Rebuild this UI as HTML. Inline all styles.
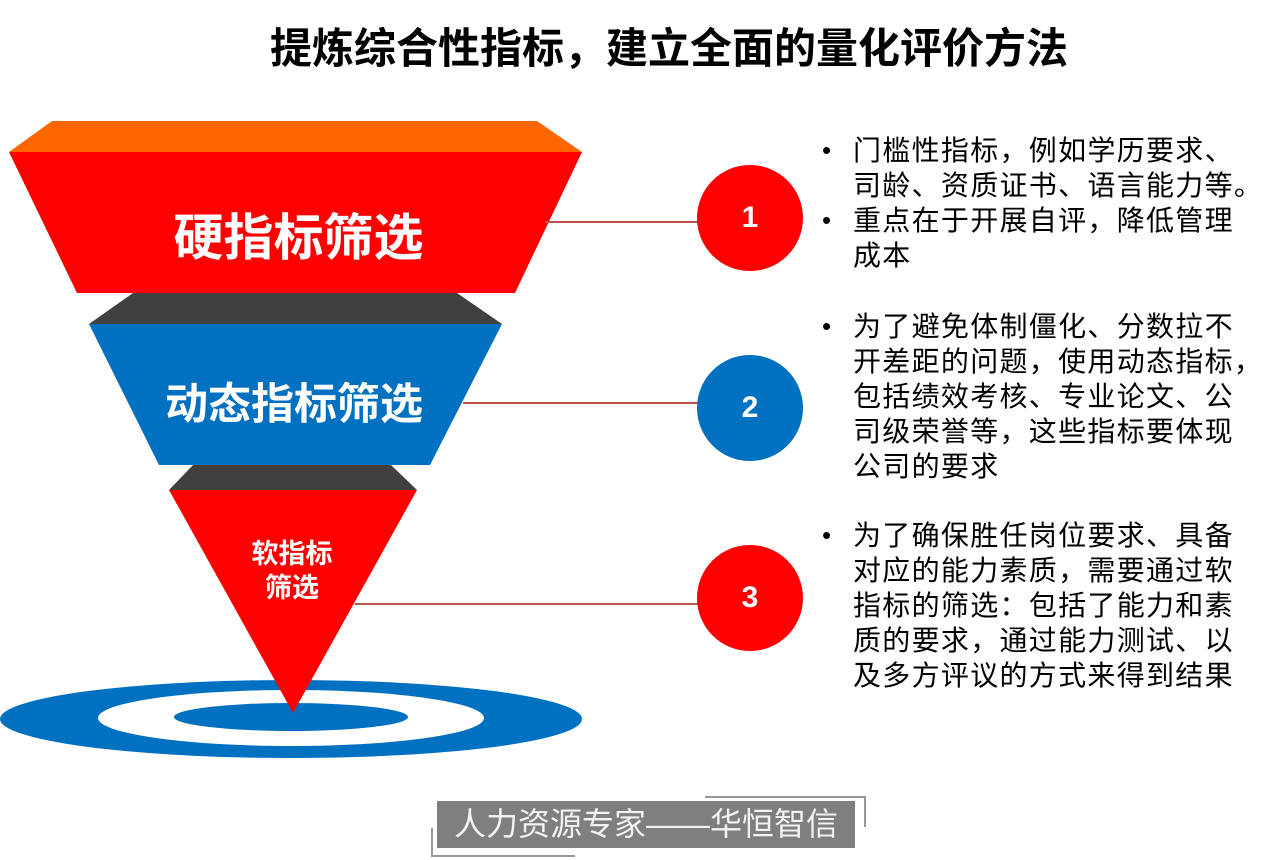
<!DOCTYPE html>
<html><head><meta charset="utf-8"><style>
body{margin:0;width:1279px;height:860px;background:#fff;position:relative;overflow:hidden;font-family:"Liberation Sans","Noto Sans CJK SC",sans-serif}
.t{position:absolute;white-space:nowrap}
.title{left:0;width:1338px;text-align:center;top:15px;font-size:42px;font-weight:bold;color:#000}
.b{position:absolute;left:822px;font-size:28px;line-height:35px;color:#000;letter-spacing:1.3px}
.b div{position:relative;padding-left:31px;white-space:nowrap}
.b div.d::before{content:"•";position:absolute;left:0;top:0;font-size:26px}
.c{position:absolute;width:106px;height:106px;border-radius:50%;left:697px;color:#fff;font-weight:bold;font-size:30px;text-align:center;line-height:106px}
</style></head><body>
<div class="t title">提炼综合性指标，建立全面的量化评价方法</div>
<svg width="1279" height="860" style="position:absolute;left:0;top:0">
<ellipse cx="291" cy="719" rx="291" ry="39" fill="#0070c0"/>
<ellipse cx="291" cy="718" rx="193" ry="28" fill="#fff"/>
<ellipse cx="291" cy="717" rx="117" ry="14" fill="#0070c0"/>
<polygon points="52,121 537,121 582,152 9,152" fill="#ff6600"/>
<polygon points="9,152 582,152 515,293 77,293" fill="#ff0000"/>
<polygon points="133,293 457,293 502,324 89,324" fill="#404040"/>
<polygon points="89,324 502,324 430,465 159,465" fill="#0070c0"/>
<polygon points="193,465 391,465 417,490 169,490" fill="#404040"/>
<polygon points="169,490 417,490 293,713" fill="#ff0000"/>
<line x1="545" y1="222" x2="700" y2="222" stroke="#c0504d" stroke-width="2"/>
<line x1="463" y1="403" x2="700" y2="403" stroke="#c0504d" stroke-width="2"/>
<line x1="355" y1="604" x2="700" y2="604" stroke="#c0504d" stroke-width="2"/>
<polyline points="432,828 432,856 575,856" fill="none" stroke="#999" stroke-width="2"/>
<polyline points="705,797 865,797 865,827" fill="none" stroke="#999" stroke-width="2"/>
</svg>
<div class="t" style="left:0;width:597px;text-align:center;top:198px;font-size:50px;font-weight:bold;color:#fff">硬指标筛选</div>
<div class="t" style="left:0;width:588px;text-align:center;top:370px;font-size:43px;font-weight:bold;color:#fff">动态指标筛选</div>
<div class="t" style="left:0;width:584px;text-align:center;top:537px;font-size:27px;line-height:34px;font-weight:bold;color:#fff">软指标<br>筛选</div>
<div class="c" style="top:165px;background:#ff0000">1</div>
<div class="c" style="top:355px;background:#0070c0">2</div>
<div class="c" style="top:545px;background:#ff0000">3</div>
<div class="b" style="top:133px"><div class="d">门槛性指标，例如学历要求、</div><div>司龄、资质证书、语言能力等。</div><div class="d">重点在于开展自评，降低管理</div><div>成本</div></div>
<div class="b" style="top:309px"><div class="d">为了避免体制僵化、分数拉不</div><div>开差距的问题，使用动态指标，</div><div>包括绩效考核、专业论文、公</div><div>司级荣誉等，这些指标要体现</div><div>公司的要求</div></div>
<div class="b" style="top:518px"><div class="d">为了确保胜任岗位要求、具备</div><div>对应的能力素质，需要通过软</div><div>指标的筛选：包括了能力和素</div><div>质的要求，通过能力测试、以</div><div>及多方评议的方式来得到结果</div></div>
<div class="t" style="left:437px;top:801px;width:418px;height:47px;background:#7f7f7f;color:#f2f2f2;font-size:32px;line-height:47px;text-align:center">人力资源专家——华恒智信</div>
</body></html>
